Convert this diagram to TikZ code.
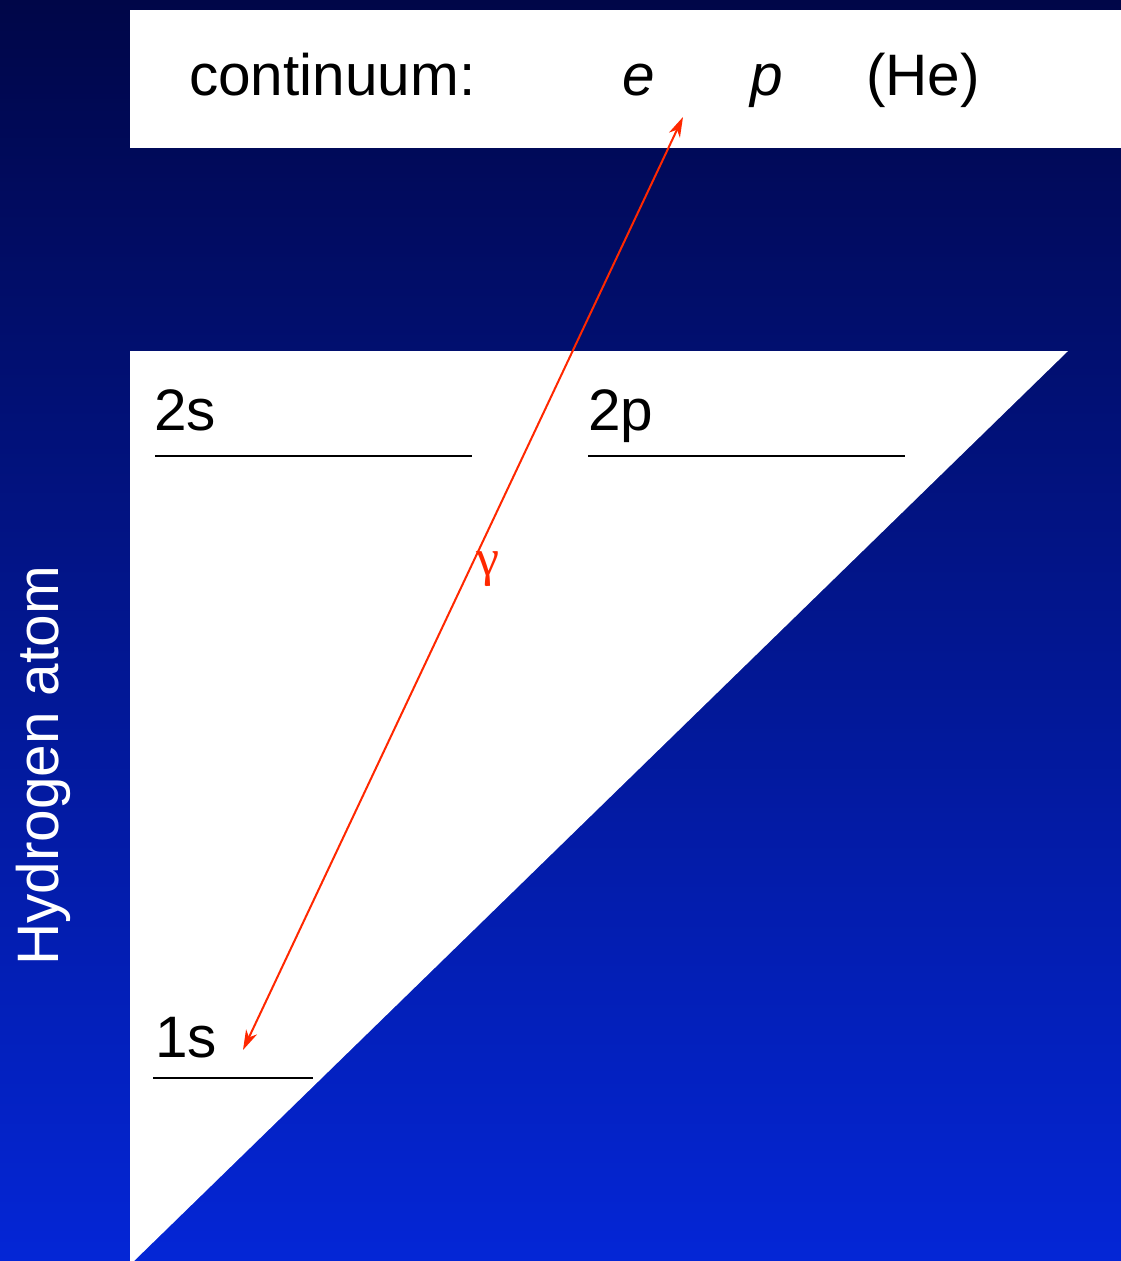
\documentclass[tikz,border=0pt]{standalone}
\usepackage{fontspec}
\setmainfont{Liberation Sans}
\newfontfamily\greekfont{Liberation Serif}
\usetikzlibrary{arrows.meta}
\definecolor{bgtop}{RGB}{0,6,72}
\definecolor{bgbot}{RGB}{4,38,214}
\definecolor{arrowred}{RGB}{255,40,0}
\tikzset{
  lbl/.style={anchor=base west, inner sep=0pt, text=black, font=\fontsize{58.5}{64}\selectfont},
  level/.style={line width=2.5pt, black},
  photon/.style={arrowred, line width=2pt, {Stealth[length=20pt,width=12pt,inset=6pt]}-{Stealth[length=20pt,width=12pt,inset=6pt]}}
}
\begin{document}
\begin{tikzpicture}[x=1pt,y=-1pt]
\useasboundingbox (0,0) rectangle (1121,1261);
\shade[top color=bgtop, bottom color=bgbot] (0,0) rectangle (1121,1261);
% continuum box
\fill[white] (130,10) rectangle (1121,148);
% triangle
\fill[white] (130,351) -- (1068,351) -- (134,1261) -- (130,1261) -- cycle;
% texts
\node[lbl] (cont) at (189,95) {continuum:};
\node[lbl] (e) at (622,95) {\itshape e};
\node[lbl] (p) at (750,95) {\itshape p};
\node[lbl] (he) at (866,95) {(He)};
\node[lbl] (l2s) at (154,430) {2s};
\node[lbl] (l2p) at (588,430) {2p};
\node[lbl] (l1s) at (155,1057) {1s};
\node[lbl, text=white, rotate=90, anchor=base] (hyd) at (58,766) {Hydrogen atom};
% levels
\coordinate (a2s) at (155,456); \coordinate (b2s) at (472,456);
\coordinate (a2p) at (588,456); \coordinate (b2p) at (905,456);
\coordinate (a1s) at (153,1078); \coordinate (b1s) at (313,1078);
\draw[level] (a2s) -- (b2s);
\draw[level] (a2p) -- (b2p);
\draw[level] (a1s) -- (b1s);
% photon arrow
\coordinate (top) at (683,117);
\coordinate (bot) at (243,1050);
\draw[photon] (bot) -- (top);
\node[text=arrowred, inner sep=0pt, anchor=base, font=\greekfont\fontsize{52}{56}\selectfont] (gam) at (488,575) {γ};
\end{tikzpicture}
\end{document}
